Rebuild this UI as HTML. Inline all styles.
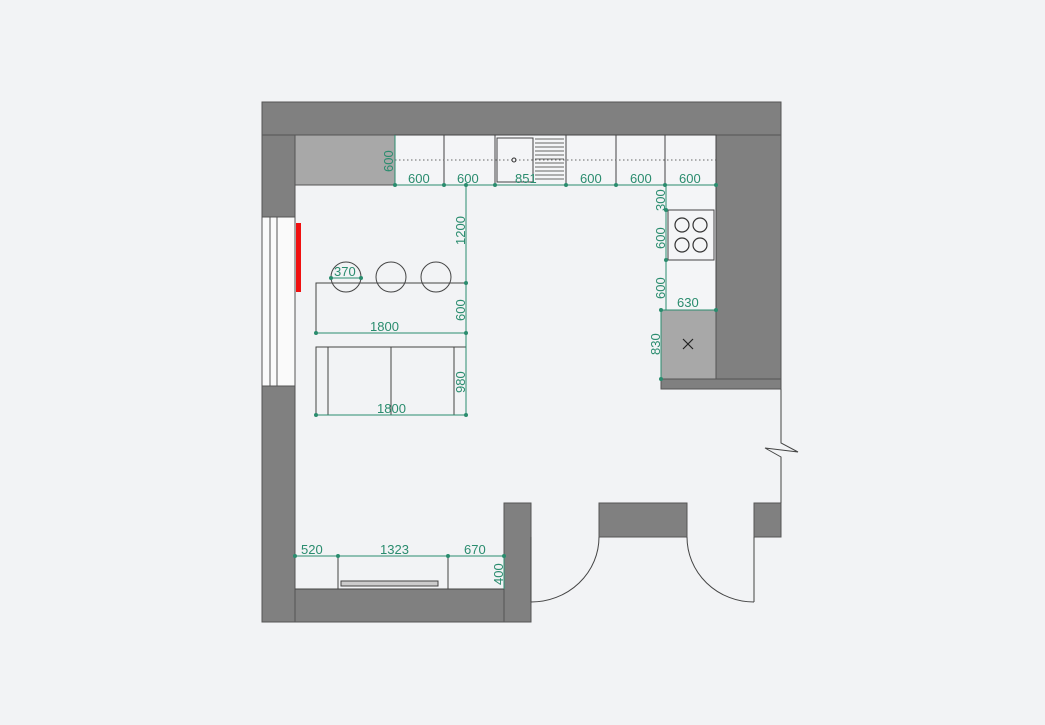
<!DOCTYPE html>
<html><head><meta charset="utf-8"><style>
html,body{margin:0;padding:0;background:#f2f3f5;}
svg{display:block}
text{font-family:"Liberation Sans",sans-serif;font-size:13px;fill:#2a8c6e}
</style></head><body>
<svg width="1045" height="725" viewBox="0 0 1045 725" xmlns="http://www.w3.org/2000/svg">
<rect width="1045" height="725" fill="#f2f3f5"/>
<g fill="#808080" stroke="#555" stroke-width="1">
<rect x="262" y="102" width="519" height="33"/>
<rect x="262" y="135" width="33" height="82"/>
<rect x="262" y="386" width="33" height="236"/>
<rect x="716" y="135" width="65" height="244"/>
<rect x="661" y="379" width="120" height="10"/>
<rect x="295" y="589" width="209" height="33"/>
<rect x="504" y="503" width="27" height="119"/>
<rect x="599" y="503" width="88" height="34"/>
<rect x="754" y="503" width="27" height="34"/>
</g>
<g stroke="#555" stroke-width="1" fill="#fafafa">
<rect x="262" y="217" width="33" height="169"/>
<line x1="270" y1="217" x2="270" y2="386"/><line x1="277" y1="217" x2="277" y2="386"/>
</g>
<rect x="296" y="223" width="5" height="69" fill="#f01010"/>
<rect x="295" y="135" width="100" height="50" fill="#a8a8a8" stroke="#555"/>
<g stroke="#444" stroke-width="1" fill="#f4f5f7">
<rect x="395" y="135" width="321" height="50"/>
<line x1="444" y1="135" x2="444" y2="185"/><line x1="495" y1="135" x2="495" y2="185"/>
<line x1="566" y1="135" x2="566" y2="185"/><line x1="616" y1="135" x2="616" y2="185"/>
<line x1="665" y1="135" x2="665" y2="185"/>
<rect x="497" y="138" width="36" height="44"/>
</g>
<g stroke="#666" stroke-width="1">
<line x1="535" y1="139" x2="564" y2="139"/><line x1="535" y1="143" x2="564" y2="143"/><line x1="535" y1="147" x2="564" y2="147"/><line x1="535" y1="151" x2="564" y2="151"/><line x1="535" y1="155" x2="564" y2="155"/><line x1="535" y1="159" x2="564" y2="159"/><line x1="535" y1="163" x2="564" y2="163"/><line x1="535" y1="167" x2="564" y2="167"/><line x1="535" y1="171" x2="564" y2="171"/><line x1="535" y1="175" x2="564" y2="175"/><line x1="535" y1="179" x2="564" y2="179"/>
</g>
<line x1="395" y1="160" x2="716" y2="160" stroke="#666" stroke-dasharray="1.5,2.5"/>
<circle cx="514" cy="160" r="2" fill="none" stroke="#333"/>
<g stroke="#444" fill="#f4f5f7">
<rect x="666" y="185" width="50" height="125"/>
<rect x="668" y="210" width="46" height="50"/>
</g>
<g stroke="#333" fill="none" stroke-width="1.2">
<circle cx="682" cy="225" r="7"/><circle cx="700" cy="225" r="7"/><circle cx="682" cy="245" r="7"/><circle cx="700" cy="245" r="7"/>
</g>
<rect x="661" y="310" width="55" height="69" fill="#a8a8a8" stroke="#555"/>
<path d="M683 339 l10 10 M693 339 l-10 10" stroke="#222" stroke-width="1.2"/>
<g stroke="#444" fill="none" stroke-width="1">
<circle cx="346" cy="277" r="15"/><circle cx="391" cy="277" r="15"/><circle cx="436" cy="277" r="15"/>
<path d="M316 333 V283 H466"/>
<rect x="316" y="347" width="150" height="68"/>
<line x1="328" y1="347" x2="328" y2="415"/><line x1="391" y1="347" x2="391" y2="415"/><line x1="454" y1="347" x2="454" y2="415"/>
</g>
<g stroke="#444" fill="none">
<line x1="338" y1="556" x2="338" y2="589"/><line x1="448" y1="556" x2="448" y2="589"/>
<line x1="295" y1="589" x2="504" y2="589"/>
<rect x="341" y="581" width="97" height="5" fill="#ccc"/>
<line x1="531" y1="537" x2="531" y2="602"/>
<path d="M599 537 A68 65 0 0 1 531 602"/>
<line x1="754" y1="537" x2="754" y2="602"/>
<path d="M687 537 A67 65 0 0 0 754 602"/>
<path d="M781 389 V443 L798 452 L765 448 L781 457 V503"/>
</g>
<g stroke="#2a8c6e" stroke-width="1" fill="none">
<line x1="395" y1="185" x2="716" y2="185"/>
<line x1="395" y1="135" x2="395" y2="185"/>
<line x1="466" y1="185" x2="466" y2="415"/>
<line x1="316" y1="333" x2="466" y2="333"/>
<line x1="316" y1="415" x2="466" y2="415"/>
<line x1="331" y1="278" x2="361" y2="278"/>
<line x1="666" y1="185" x2="666" y2="310"/>
<line x1="661" y1="310" x2="716" y2="310"/>
<line x1="661" y1="310" x2="661" y2="379"/>
<line x1="295" y1="556" x2="504" y2="556"/>
<line x1="504" y1="556" x2="504" y2="589"/>
</g>
<g fill="#2a8c6e">
<circle cx="395" cy="185" r="2"/><circle cx="444" cy="185" r="2"/><circle cx="466" cy="185" r="2"/><circle cx="495" cy="185" r="2"/><circle cx="566" cy="185" r="2"/><circle cx="616" cy="185" r="2"/><circle cx="665" cy="185" r="2"/><circle cx="716" cy="185" r="2"/>
<circle cx="466" cy="283" r="2"/><circle cx="466" cy="333" r="2"/><circle cx="316" cy="333" r="2"/><circle cx="466" cy="415" r="2"/><circle cx="316" cy="415" r="2"/>
<circle cx="331" cy="278" r="2"/><circle cx="361" cy="278" r="2"/>
<circle cx="666" cy="210" r="2"/><circle cx="666" cy="260" r="2"/><circle cx="661" cy="310" r="2"/><circle cx="716" cy="310" r="2"/><circle cx="661" cy="379" r="2"/>
<circle cx="295" cy="556" r="2"/><circle cx="338" cy="556" r="2"/><circle cx="448" cy="556" r="2"/><circle cx="504" cy="556" r="2"/>
</g>
<text x="408" y="183">600</text><text x="457" y="183">600</text><text x="515" y="183">851</text>
<text x="580" y="183">600</text><text x="630" y="183">600</text><text x="679" y="183">600</text>
<text transform="translate(393,172) rotate(-90)">600</text>
<text transform="translate(465,245) rotate(-90)">1200</text>
<text transform="translate(465,321) rotate(-90)">600</text>
<text transform="translate(465,393) rotate(-90)">980</text>
<text x="334" y="276">370</text>
<text x="370" y="331">1800</text>
<text x="377" y="413">1800</text>
<text transform="translate(665,211) rotate(-90)">300</text>
<text transform="translate(665,249) rotate(-90)">600</text>
<text transform="translate(665,299) rotate(-90)">600</text>
<text x="677" y="307">630</text>
<text transform="translate(660,355) rotate(-90)">830</text>
<text x="301" y="554">520</text><text x="380" y="554">1323</text><text x="464" y="554">670</text>
<text transform="translate(503,585) rotate(-90)">400</text>
</svg>
</body></html>
